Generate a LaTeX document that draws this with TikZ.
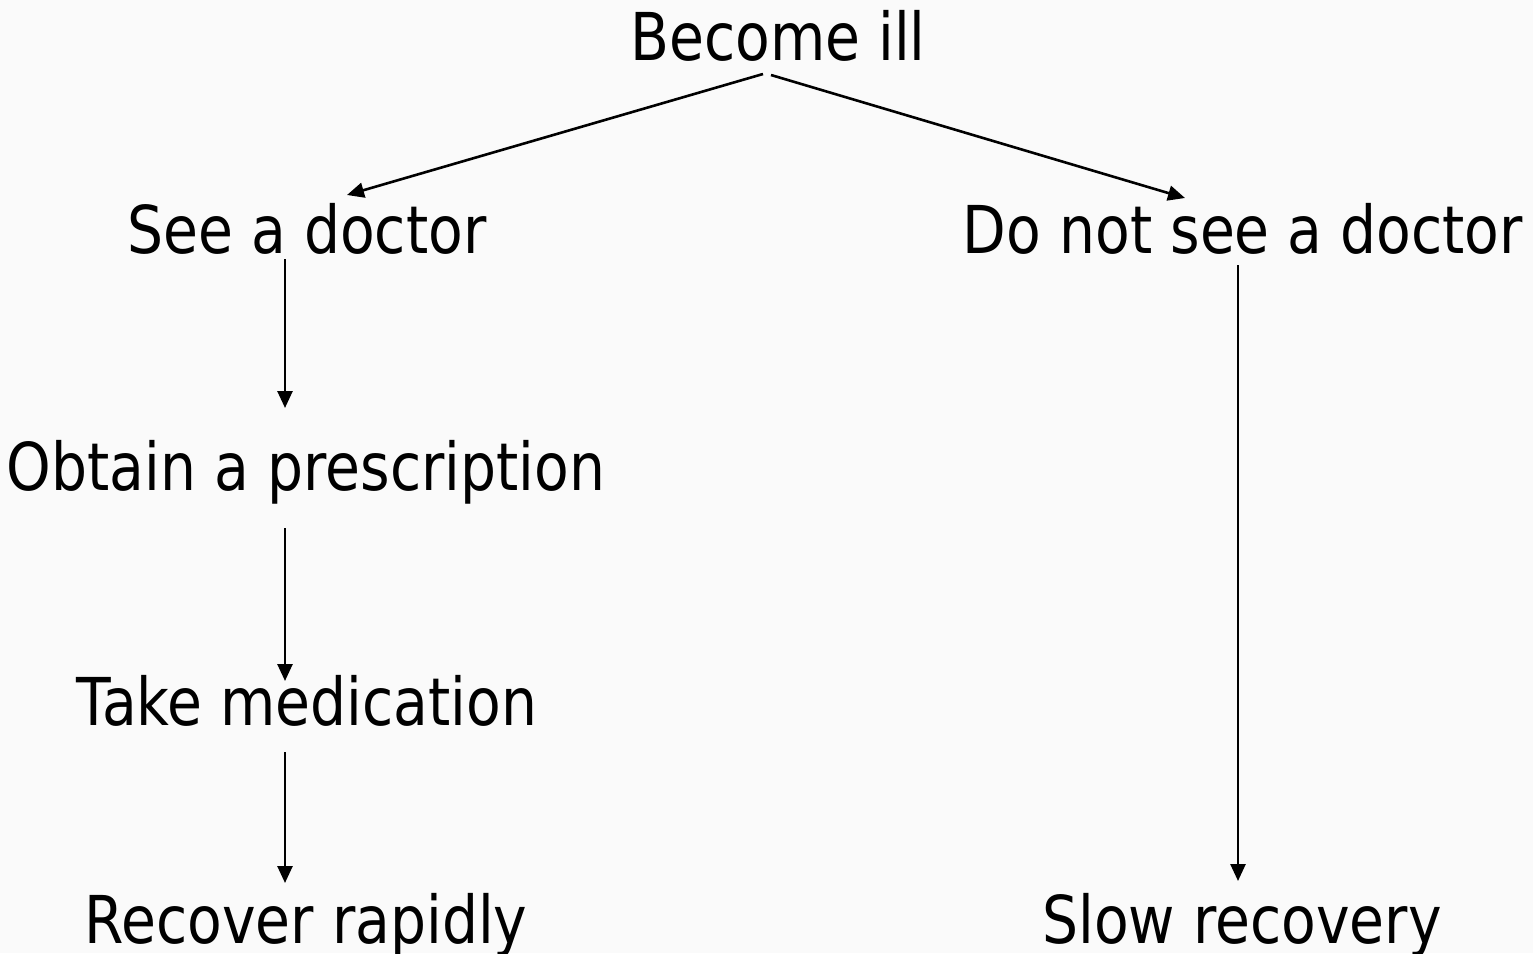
\documentclass[tikz,border=0pt]{standalone}
\usepackage{fontspec}
\setmainfont{DejaVu Sans}[FakeStretch=0.86]
\usetikzlibrary{arrows.meta}
\definecolor{paper}{HTML}{FAFAFA}
\definecolor{fgtext}{HTML}{000000}

\begin{document}
\begin{tikzpicture}[x=1pt, y=-1pt, >={Triangle[length=17pt, width=15pt]}]
    \tikzset{lbl/.style={fgtext, font=\fontsize{66}{70}\selectfont, inner sep=0pt, anchor=base},
             arr/.style={->, line width=2.6pt, draw=fgtext}}

    \fill[paper] (0,0) rectangle (1533,953);
    \useasboundingbox (0,0) rectangle (1533,953);

    \node[lbl] (ill) at (778,60) {Become ill};
    \node[lbl] (see) at (307,253) {See a doctor};
    \node[lbl] (notsee) at (1243,253) {Do not see a doctor};
    \node[lbl] (obtain) at (306,490) {Obtain a prescription};
    \node[lbl] (take) at (307,725) {Take medication};
    \node[lbl] (recover) at (306,943) {Recover rapidly};
    \node[lbl] (slow) at (1242,943) {Slow recovery};

    \draw[arr] ([xshift=-15pt, yshift=-14pt]ill.base) -- ([xshift=40pt, yshift=58pt]see.base);
    \draw[arr] ([xshift=-7pt, yshift=-15pt]ill.base) -- ([xshift=-58pt, yshift=55pt]notsee.base);
    \draw[arr] ([xshift=-22pt, yshift=-6pt]see.base) -- ([xshift=-21pt, yshift=82pt]obtain.base);
    \draw[arr] ([xshift=-21pt, yshift=-38pt]obtain.base) -- ([xshift=-22pt, yshift=44pt]take.base);
    \draw[arr] ([xshift=-22pt, yshift=-27pt]take.base) -- ([xshift=-21pt, yshift=60pt]recover.base);
    \draw[arr] ([xshift=-5pt, yshift=-12pt]notsee.base) -- ([xshift=-4pt, yshift=62pt]slow.base);
\end{tikzpicture}
\end{document}
